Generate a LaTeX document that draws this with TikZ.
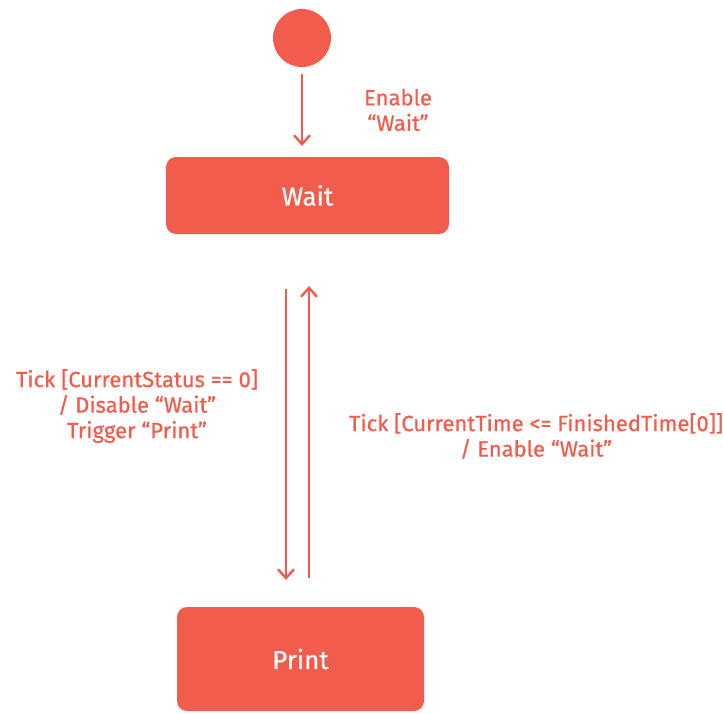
\documentclass[tikz,border=0pt]{standalone}
\usepackage{fontspec}
\setmainfont{Fira Sans}[FakeBold=0.6]
\usetikzlibrary{arrows.meta}
\definecolor{coral}{HTML}{F25C4C}
\tikzset{
  state/.style={fill=coral, rounded corners=10pt, text=white, font=\fontsize{26}{30}\selectfont},
  lbl/.style={text=coral, align=center, font=\fontsize{22}{25.5}\selectfont},
  arr/.style={draw=coral, line width=2.4pt, -{Straight Barb[length=9pt,width=16pt,line width=2.4pt]}}
}
\begin{document}
\begin{tikzpicture}[x=1pt,y=-1pt]
\useasboundingbox (0,0) rectangle (723,713);
\node[circle, fill=coral, minimum size=58pt, inner sep=0pt] (init) at (302,38) {};
\node[state, minimum width=283pt, minimum height=77pt] (wait) at (307.5,195.5) {Wait};
\node[state, minimum width=247pt, minimum height=104pt] (print) at (300.5,659) {Print};
\coordinate (a0) at (302,74);
\coordinate (a1) at (302,146);
\draw[arr] (a0) -- (a1);
\node[lbl] (l0) at (398,110) {Enable\\“Wait”};
\coordinate (d0) at (286,289);
\coordinate (d1) at (286,580);
\coordinate (u0) at (309,578);
\coordinate (u1) at (309,286);
\draw[arr] (d0) -- (d1);
\draw[arr] (u0) -- (u1);
\node[lbl] (l1) at (137,406) {Tick [CurrentStatus == 0]\\/ Disable “Wait”\\Trigger “Print”};
\node[lbl] (l2) at (536,436) {Tick [CurrentTime <= FinishedTime[0]]\\/ Enable “Wait”};
\end{tikzpicture}
\end{document}
